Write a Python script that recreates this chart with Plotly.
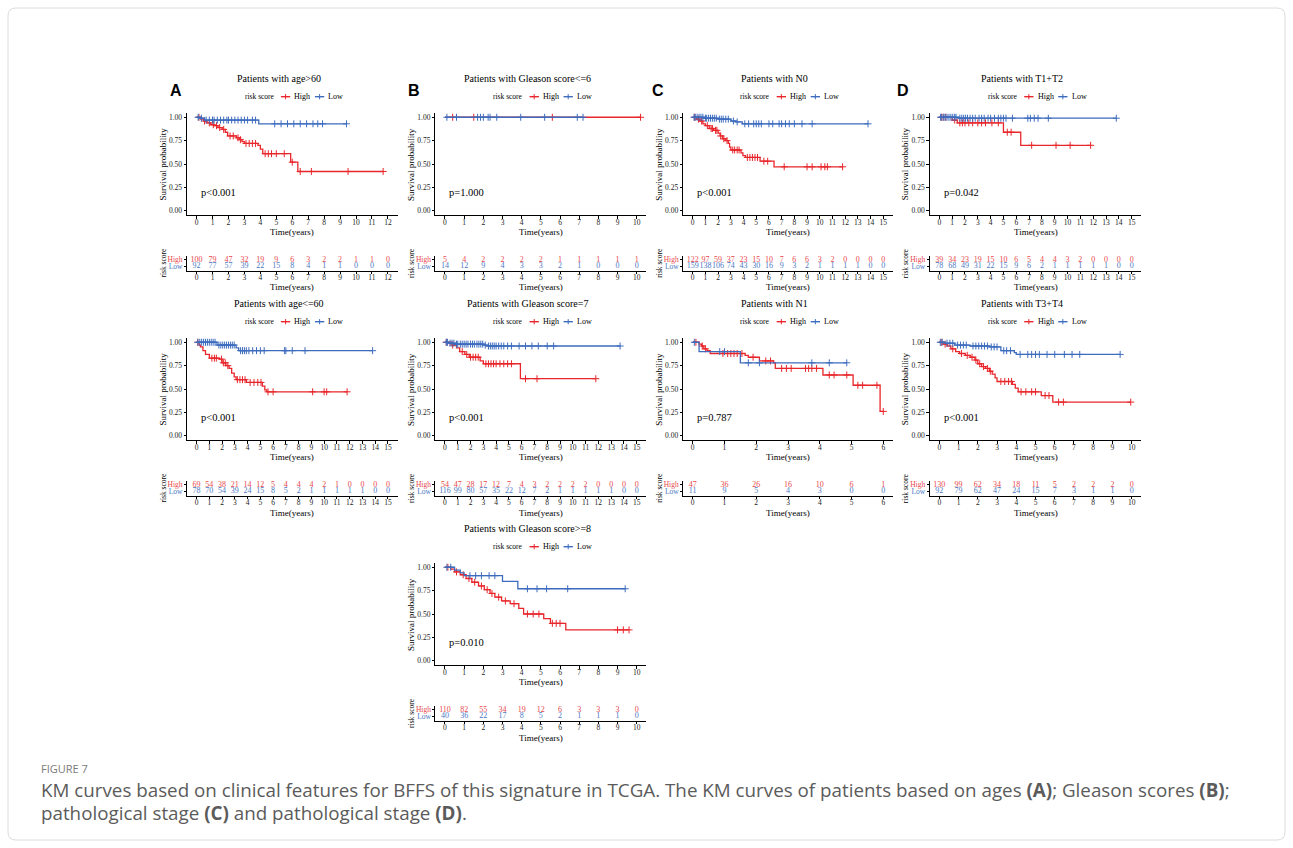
import plotly.graph_objects as go

SERIF = "Liberation Serif, Times New Roman, serif"
SANS = "Liberation Sans, Arial, sans-serif"
CAPTION_FONT = "Open Sans, sans-serif"
RED = "#E8262B"
BLUE = "#3D6CBE"
RED_TXT = "#E8474B"
BLUE_TXT = "#4A78C4"

# ---------------- Patients with age>60 ----------------
age_gt60_high_t = [0.25, 0.45, 0.65, 0.9, 1.1, 1.35, 1.6, 1.8, 1.95, 2.5, 2.7, 2.85, 3.0, 3.85, 4.0, 4.15, 5.9, 6.35]
age_gt60_high_s = [0.98, 0.96, 0.94, 0.92, 0.91, 0.89, 0.87, 0.84, 0.80, 0.78, 0.76, 0.74, 0.72, 0.70, 0.66, 0.61, 0.52, 0.42]
age_gt60_high_c = [0.15, 0.5, 0.8, 1.05, 1.25, 1.45, 1.7, 2.1, 2.3, 2.6, 2.75, 3.1, 3.3, 3.5, 3.7, 4.3, 4.5, 4.7,
                   5.0, 5.5, 6.0, 6.5, 7.2, 9.5, 11.7]
age_gt60_low_t = [0.2, 0.5, 3.9]
age_gt60_low_s = [0.99, 0.97, 0.93]
age_gt60_low_c = [0.1, 0.3, 0.6, 0.8, 1.0, 1.1, 1.3, 1.5, 1.7, 1.9, 2.0, 2.2, 2.4, 2.6, 2.8, 3.0, 3.2, 3.5, 3.7,
                  4.9, 5.3, 5.7, 6.1, 6.5, 6.9, 7.3, 7.6, 7.9, 9.4]
age_gt60_risk_high = [100, 79, 47, 32, 19, 9, 6, 3, 2, 2, 1, 1, 0]
age_gt60_risk_low = [92, 77, 57, 39, 22, 15, 8, 4, 1, 1, 0, 0, 0]

# ---------------- Patients with Gleason score<=6 ----------------
gl6_high_t = []
gl6_high_s = []
gl6_high_c = [0.4, 1.5, 5.6, 10.2]
gl6_low_t = []
gl6_low_s = []
gl6_low_c = [0.1, 0.6, 1.7, 1.85, 2.0, 2.25, 2.35, 2.7, 3.95, 5.2, 6.9, 7.2]
gl6_risk_high = [5, 4, 2, 2, 2, 2, 1, 1, 1, 1, 1]
gl6_risk_low = [14, 12, 9, 4, 3, 3, 2, 1, 0, 0, 0]

# ---------------- Patients with N0 ----------------
n0_high_t = [0.3, 0.55, 0.8, 1.0, 1.3, 1.65, 2.0, 2.15, 2.35, 2.6, 2.8, 2.9, 3.0, 3.8, 3.95, 4.15, 5.3, 6.4]
n0_high_s = [0.98, 0.96, 0.93, 0.91, 0.88, 0.86, 0.83, 0.80, 0.77, 0.75, 0.72, 0.68, 0.65, 0.62, 0.59, 0.57, 0.53, 0.47]
n0_high_c = [0.15, 0.45, 0.7, 1.15, 1.45, 1.55, 1.8, 1.9, 2.2, 2.45, 2.7, 3.15, 3.3, 3.5, 3.65, 4.3, 4.5, 4.7,
             4.9, 5.1, 5.6, 5.9, 7.2, 9.0, 9.4, 10.1, 10.4, 10.6, 11.8]
n0_low_t = [0.9, 2.0, 3.0, 3.4, 3.9]
n0_low_s = [0.99, 0.98, 0.96, 0.95, 0.93]
n0_low_c = [0.1, 0.2, 0.35, 0.5, 0.65, 0.8, 1.0, 1.1, 1.25, 1.4, 1.55, 1.7, 1.85, 2.1, 2.25, 2.4, 2.6, 2.8,
            3.2, 3.5, 4.1, 4.4, 4.8, 5.0, 5.2, 5.4, 6.0, 6.3, 6.8, 7.0, 7.3, 7.6, 8.0, 8.6, 9.4, 13.8]
n0_risk_high = [122, 97, 59, 37, 23, 15, 10, 7, 6, 6, 3, 2, 0, 0, 0, 0]
n0_risk_low = [159, 138, 106, 74, 43, 30, 16, 9, 3, 2, 1, 1, 1, 1, 0, 0]

# ---------------- Patients with T1+T2 ----------------
t12_high_t = [1.0, 1.4, 5.0, 6.35]
t12_high_s = [0.97, 0.94, 0.84, 0.70]
t12_high_c = [0.15, 0.3, 0.5, 1.2, 1.6, 1.8, 2.0, 2.3, 2.6, 3.0, 3.3, 3.6, 4.1, 4.6, 5.3, 5.6, 7.2, 9.1, 10.2, 11.8]
t12_low_t = [1.5]
t12_low_s = [0.99]
t12_low_c = [0.1, 0.2, 0.35, 0.45, 0.6, 0.75, 0.9, 1.05, 1.2, 1.3, 1.6, 1.75, 1.9, 2.05, 2.2, 2.4, 2.6, 2.8,
             3.1, 3.3, 3.5, 3.8, 4.0, 4.3, 4.6, 4.8, 5.0, 5.2, 5.7, 6.9, 7.1, 7.4, 7.7, 8.5, 13.8]
t12_risk_high = [39, 34, 23, 19, 15, 10, 6, 5, 4, 4, 3, 2, 0, 0, 0, 0]
t12_risk_low = [78, 68, 49, 31, 22, 15, 9, 6, 2, 1, 1, 1, 1, 1, 0, 0]

# ---------------- Patients with age<=60 ----------------
age_le60_high_t = [0.2, 0.3, 0.5, 0.7, 1.0, 1.8, 2.0, 2.3, 2.55, 2.75, 2.95, 3.1, 3.9, 5.15, 5.35, 5.5]
age_le60_high_s = [0.97, 0.95, 0.91, 0.87, 0.83, 0.82, 0.78, 0.75, 0.72, 0.67, 0.63, 0.60, 0.57, 0.53, 0.49, 0.47]
age_le60_high_c = [0.1, 1.2, 1.4, 1.55, 1.95, 2.1, 2.25, 2.45, 3.2, 3.4, 3.6, 3.8, 4.2, 4.5, 4.8, 5.05, 5.6, 6.0,
                   9.1, 10.0, 10.2, 11.8]
age_le60_low_t = [1.6, 3.1, 3.3]
age_le60_low_s = [0.97, 0.94, 0.91]
age_le60_low_c = [0.1, 0.25, 0.4, 0.55, 0.7, 0.85, 1.0, 1.15, 1.3, 1.45, 1.75, 1.9, 2.05, 2.2, 2.35, 2.5, 2.65,
                  2.8, 2.95, 3.45, 3.6, 3.75, 3.9, 4.1, 4.4, 4.7, 5.0, 5.3, 6.9, 7.0, 7.5, 8.5, 13.8]
age_le60_risk_high = [69, 54, 38, 21, 14, 12, 5, 4, 4, 4, 2, 1, 0, 0, 0, 0]
age_le60_risk_low = [78, 70, 54, 39, 24, 15, 8, 5, 2, 1, 1, 1, 1, 1, 0, 0]

# ---------------- Patients with Gleason score=7 ----------------
gl7_high_t = [0.55, 0.9, 1.15, 1.55, 1.9, 2.75, 3.0, 5.9]
gl7_high_s = [0.97, 0.94, 0.90, 0.87, 0.84, 0.80, 0.77, 0.61]
gl7_high_c = [0.1, 0.6, 1.35, 1.7, 2.0, 2.2, 2.4, 2.6, 3.2, 3.4, 3.6, 3.8, 4.0, 4.3, 4.6, 4.9, 5.2, 6.3, 7.2, 11.8]
gl7_low_t = [0.25, 0.8, 3.05, 3.3]
gl7_low_s = [0.99, 0.98, 0.97, 0.96]
gl7_low_c = [0.1, 0.2, 0.4, 0.55, 0.7, 0.9, 1.0, 1.2, 1.35, 1.5, 1.65, 1.8, 2.0, 2.15, 2.3, 2.5, 2.65, 2.8,
             2.95, 3.15, 3.4, 3.55, 3.7, 3.85, 4.0, 4.2, 4.4, 4.6, 4.9, 5.2, 5.8, 6.3, 6.8, 7.3, 8.0, 8.5, 13.7]
gl7_risk_high = [54, 47, 28, 17, 12, 7, 4, 3, 2, 2, 2, 2, 0, 0, 0, 0]
gl7_risk_low = [116, 99, 80, 57, 35, 22, 12, 7, 2, 1, 1, 1, 1, 1, 0, 0]

# ---------------- Patients with N1 ----------------
n1_high_t = [0.2, 0.28, 0.35, 0.45, 0.55, 1.65, 1.75, 2.1, 2.55, 2.6, 4.1, 5.05, 5.9]
n1_high_s = [0.98, 0.96, 0.93, 0.91, 0.88, 0.86, 0.84, 0.80, 0.78, 0.72, 0.65, 0.54, 0.26]
n1_high_c = [0.1, 0.3, 0.4, 0.95, 1.1, 1.2, 1.3, 1.4, 1.55, 1.9, 2.3, 2.45, 2.8, 2.95, 3.1, 3.55, 3.65, 3.75,
             3.9, 4.3, 4.45, 4.85, 5.2, 5.35, 5.8, 6.0]
n1_low_t = [0.2, 1.5]
n1_low_s = [0.90, 0.78]
n1_low_c = [0.05, 0.85, 1.0, 1.75, 2.1, 3.75, 4.3, 4.85]
n1_risk_high = [47, 36, 26, 16, 10, 6, 1]
n1_risk_low = [11, 9, 5, 4, 3, 0, 0]

# ---------------- Patients with T3+T4 ----------------
t34_high_t = [0.2, 0.4, 0.6, 0.85, 1.05, 1.35, 1.6, 1.85, 2.0, 2.2, 2.4, 2.6, 2.75, 2.9, 3.0, 3.8, 3.95, 4.1, 5.3, 5.9]
t34_high_s = [0.98, 0.96, 0.93, 0.90, 0.88, 0.86, 0.84, 0.81, 0.77, 0.74, 0.72, 0.69, 0.66, 0.62, 0.58, 0.55,
              0.51, 0.47, 0.43, 0.36]
t34_high_c = [0.1, 0.3, 0.7, 1.15, 1.45, 1.7, 1.9, 2.1, 2.3, 2.5, 2.65, 3.2, 3.4, 3.6, 3.75, 4.25, 4.5, 4.8,
              5.0, 5.5, 5.7, 6.2, 6.45, 9.95]
t34_low_t = [0.3, 0.8, 1.6, 2.6, 3.2, 3.9, 4.0]
t34_low_s = [0.99, 0.97, 0.96, 0.95, 0.91, 0.89, 0.87]
t34_low_c = [0.05, 0.15, 0.4, 0.55, 0.7, 0.95, 1.1, 1.25, 1.4, 1.75, 1.9, 2.05, 2.2, 2.35, 2.5, 2.7, 2.85, 3.0,
             3.35, 3.5, 3.7, 4.2, 4.6, 4.8, 5.0, 5.2, 5.6, 6.0, 6.5, 6.9, 7.3, 9.4]
t34_risk_high = [130, 99, 62, 34, 18, 11, 5, 2, 2, 2, 0]
t34_risk_low = [92, 79, 62, 47, 24, 15, 7, 3, 1, 1, 0]

# ---------------- Patients with Gleason score>=8 ----------------
gl8_high_t = [0.3, 0.5, 0.8, 1.1, 1.4, 1.75, 2.05, 2.35, 2.6, 2.95, 3.4, 3.85, 4.1, 5.15, 5.5, 6.3]
gl8_high_s = [0.98, 0.95, 0.92, 0.88, 0.84, 0.80, 0.76, 0.72, 0.68, 0.64, 0.61, 0.56, 0.50, 0.45, 0.40, 0.33]
gl8_high_c = [0.15, 0.6, 0.95, 1.25, 1.55, 1.9, 2.2, 2.45, 2.8, 3.15, 3.6, 4.3, 4.6, 4.9, 5.6, 5.8, 6.0, 9.0, 9.3, 9.6]
gl8_low_t = [0.5, 0.8, 1.0, 3.0, 3.8]
gl8_low_s = [0.97, 0.94, 0.91, 0.85, 0.77]
gl8_low_c = [0.1, 0.3, 1.3, 1.6, 1.9, 2.3, 2.6, 4.3, 4.8, 5.3, 6.4, 9.4]
gl8_risk_high = [110, 82, 55, 34, 19, 12, 6, 3, 3, 3, 0]
gl8_risk_low = [40, 36, 22, 17, 8, 5, 2, 1, 1, 1, 0]

panels = [
    dict(col="A", row=0, title="Patients with age>60", pval="p<0.001", xmax=12,
         high=(age_gt60_high_t, age_gt60_high_s, age_gt60_high_c),
         low=(age_gt60_low_t, age_gt60_low_s, age_gt60_low_c),
         risk=(age_gt60_risk_high, age_gt60_risk_low)),
    dict(col="B", row=0, title="Patients with Gleason score<=6", pval="p=1.000", xmax=10,
         high=(gl6_high_t, gl6_high_s, gl6_high_c),
         low=(gl6_low_t, gl6_low_s, gl6_low_c),
         risk=(gl6_risk_high, gl6_risk_low)),
    dict(col="C", row=0, title="Patients with N0", pval="p<0.001", xmax=15,
         high=(n0_high_t, n0_high_s, n0_high_c),
         low=(n0_low_t, n0_low_s, n0_low_c),
         risk=(n0_risk_high, n0_risk_low)),
    dict(col="D", row=0, title="Patients with T1+T2", pval="p=0.042", xmax=15,
         high=(t12_high_t, t12_high_s, t12_high_c),
         low=(t12_low_t, t12_low_s, t12_low_c),
         risk=(t12_risk_high, t12_risk_low)),
    dict(col="A", row=1, title="Patients with age<=60", pval="p<0.001", xmax=15,
         high=(age_le60_high_t, age_le60_high_s, age_le60_high_c),
         low=(age_le60_low_t, age_le60_low_s, age_le60_low_c),
         risk=(age_le60_risk_high, age_le60_risk_low)),
    dict(col="B", row=1, title="Patients with Gleason score=7", pval="p<0.001", xmax=15,
         high=(gl7_high_t, gl7_high_s, gl7_high_c),
         low=(gl7_low_t, gl7_low_s, gl7_low_c),
         risk=(gl7_risk_high, gl7_risk_low)),
    dict(col="C", row=1, title="Patients with N1", pval="p=0.787", xmax=6,
         high=(n1_high_t, n1_high_s, n1_high_c),
         low=(n1_low_t, n1_low_s, n1_low_c),
         risk=(n1_risk_high, n1_risk_low)),
    dict(col="D", row=1, title="Patients with T3+T4", pval="p<0.001", xmax=10,
         high=(t34_high_t, t34_high_s, t34_high_c),
         low=(t34_low_t, t34_low_s, t34_low_c),
         risk=(t34_risk_high, t34_risk_low)),
    dict(col="B", row=2, title="Patients with Gleason score>=8", pval="p=0.010", xmax=10,
         high=(gl8_high_t, gl8_high_s, gl8_high_c),
         low=(gl8_low_t, gl8_low_s, gl8_low_c),
         risk=(gl8_risk_high, gl8_risk_low)),
]

panel_letters = {"A": 176, "B": 414, "C": 658, "D": 903}

# ---------------- page geometry (pixels) ----------------
W, H = 1293, 848
COLS = {"A": (187.0, 397.5), "B": (435.4, 646.3), "C": (683.2, 892.8), "D": (929.7, 1141.3)}
ROW_STEP = 225.0
KM_Y = (112.6, 215.4)
RISK_Y = (255.5, 270.5)
TITLE_Y = 78.3
LEGEND_Y = 96.7


def fx(x):
    return x / W


def fy(y):
    return 1 - y / H


def surv_at(t, times, survs):
    s = 1.0
    for ti, si in zip(times, survs):
        if ti <= t:
            s = si
    return s


def axis_key(n, letter):
    return f"{letter}axis" if n == 1 else f"{letter}axis{n}"


def axis_ref(n, letter):
    return letter if n == 1 else f"{letter}{n}"


fig = go.Figure()
layout = dict(
    width=W, height=H, margin=dict(l=0, r=0, t=0, b=0),
    paper_bgcolor="white", plot_bgcolor="white", showlegend=False,
)
annotations = []
shapes = []

tick_font = dict(family=SERIF, size=7.5, color="#222")
base_axis = dict(showline=True, linecolor="black", linewidth=1, ticks="outside", ticklen=2.5,
                 tickcolor="black", tickwidth=1, showgrid=False, zeroline=False,
                 tickfont=tick_font, fixedrange=True)


def add_text(x, y, text, size, color="black", family=SERIF, xanchor="center", angle=0, xref="paper",
             yref="paper", xshift=0):
    annotations.append(dict(
        x=x, y=y, xref=xref, yref=yref, text=text, showarrow=False, xanchor=xanchor,
        yanchor="middle", textangle=angle, font=dict(family=family, size=size, color=color),
        xshift=xshift, borderpad=0,
    ))


def draw_legend(cx, cy):
    add_text(fx(cx - 48.7), fy(cy), "risk score", 7.5, xanchor="left")
    for x0, col, label in ((cx - 11.3, RED, "High"), (cx + 22.7, BLUE, "Low")):
        shapes.append(dict(type="line", xref="paper", yref="paper", x0=fx(x0), x1=fx(x0 + 9.3),
                           y0=fy(cy), y1=fy(cy), line=dict(color=col, width=1.4)))
        xm = x0 + 4.65
        shapes.append(dict(type="line", xref="paper", yref="paper", x0=fx(xm), x1=fx(xm),
                           y0=fy(cy - 2.6), y1=fy(cy + 2.6), line=dict(color=col, width=1)))
        add_text(fx(x0 + 12.3), fy(cy), label, 8, xanchor="left")


for i, p in enumerate(panels):
    km_n = 2 * i + 1
    rk_n = 2 * i + 2
    x0, x1 = COLS[p["col"]]
    off = p["row"] * ROW_STEP
    xmax = p["xmax"]
    xr = [-0.05 * xmax, 1.05 * xmax]
    cx = (x0 + x1) / 2

    # survival panel axes
    layout[axis_key(km_n, "x")] = dict(base_axis, domain=[fx(x0), fx(x1)], range=xr,
                                       anchor=axis_ref(km_n, "y"), tickmode="linear", tick0=0, dtick=1,
                                       ticklabelstandoff=-3)
    layout[axis_key(km_n, "y")] = dict(base_axis, domain=[fy(KM_Y[1] + off), fy(KM_Y[0] + off)],
                                       range=[-0.05, 1.05], anchor=axis_ref(km_n, "x"),
                                       tickvals=[0, 0.25, 0.5, 0.75, 1.0],
                                       ticktext=["0.00", "0.25", "0.50", "0.75", "1.00"])
    # number-at-risk table axes
    layout[axis_key(rk_n, "x")] = dict(base_axis, domain=[fx(x0), fx(x1)], range=xr,
                                       anchor=axis_ref(rk_n, "y"), tickmode="linear", tick0=0, dtick=1,
                                       ticklabelstandoff=-3)
    layout[axis_key(rk_n, "y")] = dict(base_axis, domain=[fy(RISK_Y[1] + off), fy(RISK_Y[0] + off)],
                                       range=[-0.6, 1.6], anchor=axis_ref(rk_n, "x"), ticklen=2,
                                       tickvals=[0, 1],
                                       ticktext=[f'<span style="color:{BLUE_TXT}">Low</span>',
                                                 f'<span style="color:{RED_TXT}">High</span>'],
                                       tickfont=dict(family=SERIF, size=7.5))

    xa, ya = axis_ref(km_n, "x"), axis_ref(km_n, "y")
    for (times, survs, cens), col in ((p["high"], RED), (p["low"], BLUE)):
        end = max(list(times) + list(cens))
        xs = [0.0] + list(times) + [end]
        ys = [1.0] + list(survs) + [survs[-1] if survs else 1.0]
        fig.add_trace(go.Scatter(x=xs, y=ys, mode="lines", line=dict(color=col, width=1.3, shape="hv"),
                                 xaxis=xa, yaxis=ya, hoverinfo="skip"))
        fig.add_trace(go.Scatter(x=cens, y=[surv_at(c, times, survs) for c in cens], mode="markers",
                                 marker=dict(symbol="cross-thin", size=5, line=dict(color=col, width=1)),
                                 xaxis=xa, yaxis=ya, hoverinfo="skip"))

    risk_times = list(range(xmax + 1))
    rx, ry = axis_ref(rk_n, "x"), axis_ref(rk_n, "y")
    for vals, yv, col in ((p["risk"][0], 1, RED_TXT), (p["risk"][1], 0, BLUE_TXT)):
        fig.add_trace(go.Scatter(x=risk_times, y=[yv] * len(vals), mode="text",
                                 text=[str(v) for v in vals],
                                 textfont=dict(family=SERIF, size=8, color=col),
                                 xaxis=rx, yaxis=ry, hoverinfo="skip"))

    # titles, labels and legend
    add_text(fx(cx - 13.5), fy(TITLE_Y + off), p["title"], 10)
    draw_legend(cx, LEGEND_Y + off)
    add_text(fx(x0 - 24.5), fy((KM_Y[0] + KM_Y[1]) / 2 + off), "Survival probability", 9, angle=-90)
    add_text(fx(cx), fy(KM_Y[1] + 16.5 + off), "Time(years)", 9)
    add_text(0, 0.2, p["pval"], 10.5, xanchor="left", xref=xa, yref=ya, xshift=3.5)
    add_text(fx(x0 - 24.5), fy((RISK_Y[0] + RISK_Y[1]) / 2 + off), "risk score", 7.5, angle=-90)
    add_text(fx(cx), fy(RISK_Y[1] + 17 + off), "Time(years)", 9)

for letter, lx in panel_letters.items():
    add_text(fx(lx), fy(91), letter, 16, family=SANS, xanchor="center")
    annotations[-1]["font"]["weight"] = "bold"

# caption
CAP_COLOR = "#5b5b5b"
add_text(fx(40), fy(768), "FIGURE 7", 11, color="#7a7a7a", family=CAPTION_FONT, xanchor="left")
add_text(fx(40), fy(790),
         "KM curves based on clinical features for BFFS of this signature in TCGA. The KM curves of patients "
         "based on ages <b>(A)</b>; Gleason scores <b>(B)</b>;",
         18.8, color=CAP_COLOR, family=CAPTION_FONT, xanchor="left")
add_text(fx(40), fy(813), "pathological stage <b>(C)</b> and pathological stage <b>(D)</b>.",
         18.8, color=CAP_COLOR, family=CAPTION_FONT, xanchor="left")

# rounded page frame
r = 8
L, T, R, B = 8, 8, 1285, 840
frame = (f"M {fx(L + r)} {fy(T)} L {fx(R - r)} {fy(T)} Q {fx(R)} {fy(T)} {fx(R)} {fy(T + r)} "
         f"L {fx(R)} {fy(B - r)} Q {fx(R)} {fy(B)} {fx(R - r)} {fy(B)} "
         f"L {fx(L + r)} {fy(B)} Q {fx(L)} {fy(B)} {fx(L)} {fy(B - r)} "
         f"L {fx(L)} {fy(T + r)} Q {fx(L)} {fy(T)} {fx(L + r)} {fy(T)} Z")
shapes.append(dict(type="path", xref="paper", yref="paper", path=frame,
                   line=dict(color="#dcdcdc", width=1), layer="below"))

layout["annotations"] = annotations
layout["shapes"] = shapes
fig.update_layout(**layout)
fig.write_html("out.html")
